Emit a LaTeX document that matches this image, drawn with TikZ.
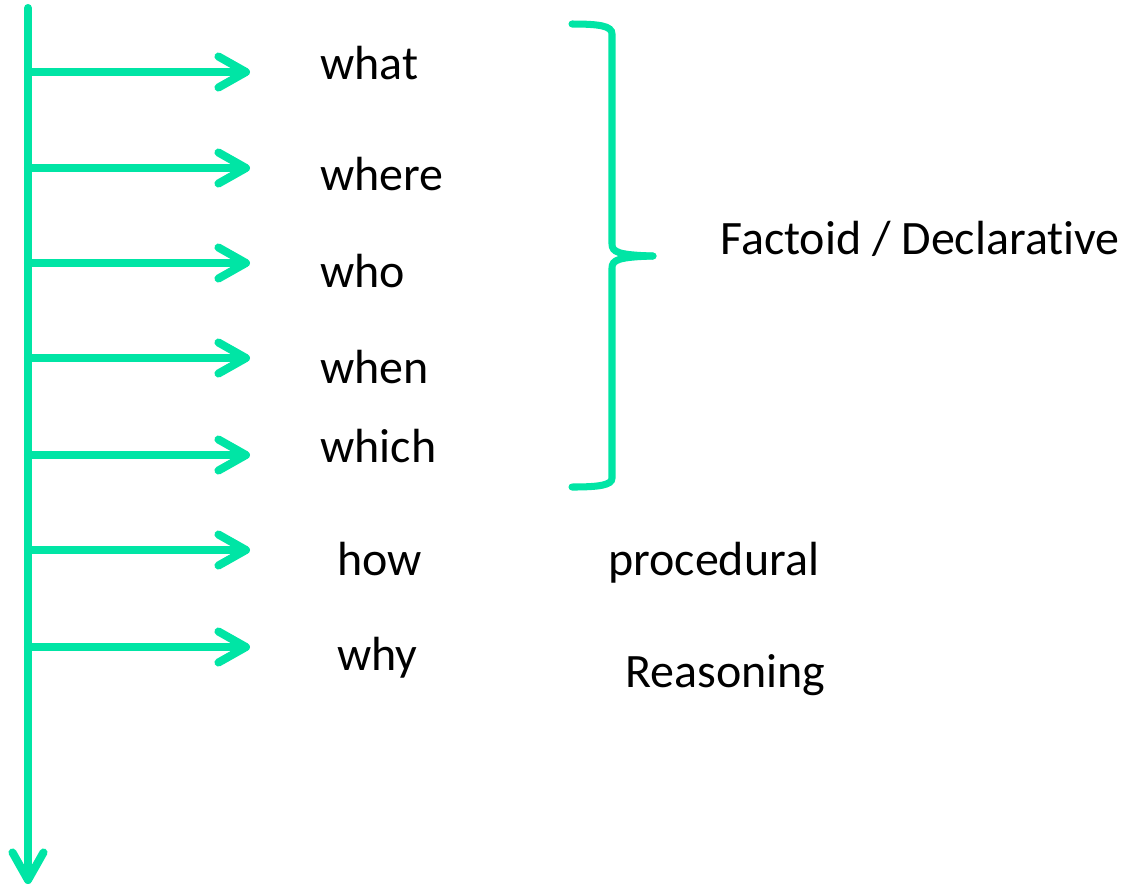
\documentclass[tikz,border=0pt]{standalone}
\usepackage{fontspec}
\setmainfont[Ligatures=NoCommon, Contextuals=NoAlternate]{Carlito}
\usetikzlibrary{arrows.meta}
\definecolor{qgreen}{HTML}{00E5A5}

\begin{document}
\begin{tikzpicture}[
  x=0.02cm, y=-0.02cm,
  font=\fontsize{27.3}{32}\selectfont,
  axis/.style={draw=qgreen, line width=4.6pt, line cap=round},
  qarrow/.style={axis, -{Straight Barb[length=0.55cm, width=0.62cm, round]}},
  word/.style={anchor=base west, inner sep=0pt}
]
\useasboundingbox (0,0) rectangle (1124,887);

% main axis
\coordinate (top) at (28,8);
\coordinate (bottom) at (28,884);
\draw[qarrow] (top) -- (bottom);

% question words
\node[word] (what)  at (320,79)  {what};
\node[word] (where) at (320,190) {where};
\node[word] (who)   at (320,287) {who};
\node[word] (when)  at (320,383) {when};
\node[word] (which) at (320,462) {which};
\node[word] (how)   at (337,575) {how};
\node[word] (why)   at (337,670) {why};

% categories
\node[word] (fact)   at (720,254) {Factoid / Declarative};
\node[word] (proc)   at (608,575) {procedural};
\node[word] (reason) at (625,687) {Reasoning};

% branches
\foreach \name/\y in {what/72, where/168, who/263, when/358, which/455, how/550, why/647} {
  \coordinate (a-\name) at (28,\y);
  \coordinate (t-\name) at (250,\y);
  \draw[qarrow] (a-\name) -- (t-\name);
}

% brace
\coordinate (br-top) at (572,24);
\coordinate (br-tip) at (653,256);
\coordinate (br-bot) at (572,487);
\draw[axis, line width=4pt] (br-top) .. controls (600,24) and (612,26) .. (612,34)
  -- (612,244) .. controls (612,252) and (618,255) .. (br-tip);
\draw[axis, line width=4pt] (br-tip) .. controls (618,257) and (612,260) .. (612,268)
  -- (612,478) .. controls (612,485) and (600,487) .. (br-bot);
\end{tikzpicture}
\end{document}
